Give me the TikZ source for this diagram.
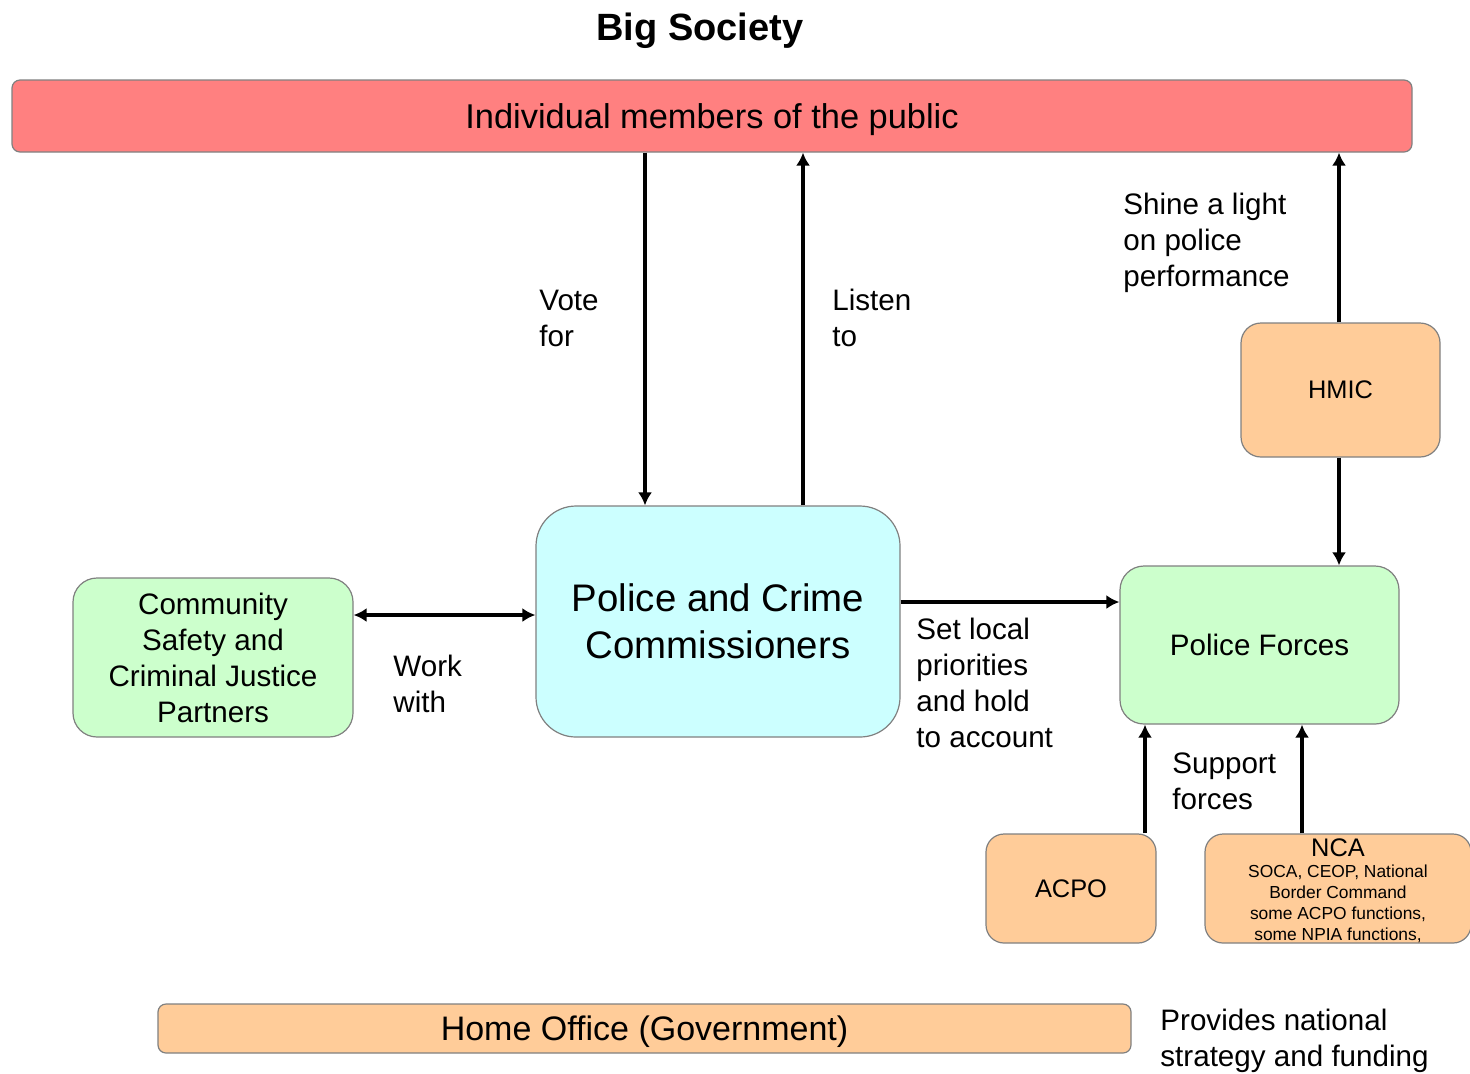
\documentclass[tikz,border=0pt]{standalone}
\usepackage{fontspec}
\setmainfont{Liberation Sans}
\usetikzlibrary{arrows.meta}
\definecolor{publicred}{RGB}{255,128,128}
\definecolor{pcccyan}{RGB}{204,255,255}
\definecolor{partnergreen}{RGB}{204,255,204}
\definecolor{bodyorange}{RGB}{255,204,153}
\definecolor{edgegray}{RGB}{128,128,128}

\begin{document}
\begin{tikzpicture}[x=0.5pt, y=-0.5pt, >={Latex[length=6.5pt,width=7pt]},
  box/.style={draw=edgegray, line width=0.6pt, rounded corners=#1, inner sep=0pt, align=center},
  box/.default=10pt,
  lbl/.style={anchor=west, inner sep=0pt, align=left, font=\fontsize{14.8}{18}\selectfont},
  arr/.style={->, line width=1.6pt}
 ]
\useasboundingbox (0,0) rectangle (1470,1073);

\node[font=\fontsize{19}{23}\selectfont\bfseries] (title) at (700,31) {Big Society};

\node[box=4pt, fill=publicred, minimum width=700pt, minimum height=36pt, text depth=0pt,
      font=\fontsize{17.2}{21}\selectfont] (public) at (712,116) {Individual members of the public};
\node[box=20pt, fill=pcccyan, minimum width=182pt, minimum height=115.5pt,
      font=\fontsize{19.2}{23.5}\selectfont] (pcc) at (718,621.5) {Police and Crime\\Commissioners};
\node[box=12pt, fill=partnergreen, minimum width=140pt, minimum height=79.5pt,
      font=\fontsize{14.8}{18}\selectfont] (partners) at (213,657.5) {Community\\Safety and\\Criminal Justice\\Partners};
\node[box=12pt, fill=partnergreen, minimum width=139.5pt, minimum height=79pt,
      font=\fontsize{14.8}{18}\selectfont] (forces) at (1259.5,645) {Police Forces};
\node[box=10pt, fill=bodyorange, minimum width=99.5pt, minimum height=67pt, text depth=0pt,
      font=\fontsize{12.7}{15}\selectfont] (hmic) at (1340.5,390) {HMIC};
\node[box=9pt, fill=bodyorange, minimum width=85pt, minimum height=54.5pt,
      font=\fontsize{12.7}{15}\selectfont] (acpo) at (1071,888.5) {ACPO};
\node[box=9pt, fill=bodyorange, minimum width=133pt, minimum height=54.5pt] (nca) at (1338,888.5) {};
\node[inner sep=0pt, align=center, font=\fontsize{8.7}{10.5}\selectfont] (ncatext) at (1338,891)
  {{\fontsize{12.7}{14}\selectfont NCA}\\SOCA, CEOP, National\\Border Command\\some ACPO functions,\\some NPIA functions,};
\node[box=4pt, fill=bodyorange, minimum width=486.5pt, minimum height=24.5pt, text depth=0pt,
      font=\fontsize{17}{21}\selectfont] (homeoffice) at (644.5,1028.5) {Home Office (Government)};

% labels
\node[lbl] (vote) at (539,318) {Vote\\for};
\node[lbl] (listen) at (832,318) {Listen\\to};
\node[lbl] (shine) at (1123,243) {Shine a light\\on police\\performance};
\node[lbl] (work) at (393,684) {Work\\with};
\node[lbl] (setlocal) at (916,683) {Set local\\priorities\\and hold\\to account};
\node[lbl] (support) at (1172,781) {Support\\forces};
\node[lbl] (provides) at (1160,1041) {Provides national\\strategy and funding};

% connectors
\draw[arr] (public.south -| 645,0) -- (pcc.north -| 645,0);
\draw[arr] (pcc.north -| 803,0) -- (public.south -| 803,0);
\draw[arr] (hmic.north -| 1339,0) -- (public.south -| 1339,0);
\draw[arr] (hmic.south -| 1339,0) -- (forces.north -| 1339,0);
\draw[arr] (pcc.east |- 0,602) -- (forces.west |- 0,602);
\draw[arr, <->] (partners.east |- 0,615) -- (pcc.west |- 0,615);
\foreach \xpos/\from in {1145/acpo, 1302/nca}
  \draw[arr] (\from.north -| \xpos,0) -- (forces.south -| \xpos,0);

\end{tikzpicture}
\end{document}
